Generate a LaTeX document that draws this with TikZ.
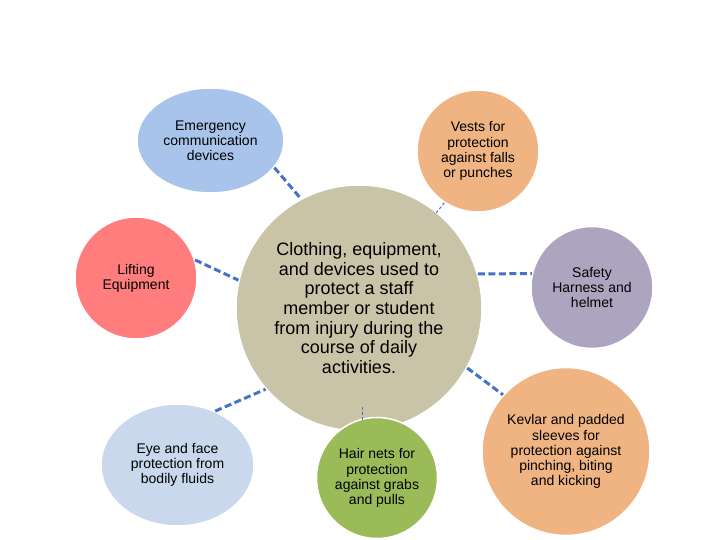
\documentclass[tikz,border=0pt]{standalone}
\usepackage{fontspec}
\setmainfont{Liberation Sans}
\usetikzlibrary{shapes.geometric,calc}
\definecolor{cCentral}{RGB}{201,195,168}
\definecolor{cEmerg}{RGB}{168,196,234}
\definecolor{cOrange}{RGB}{240,180,130}
\definecolor{cRed}{RGB}{255,125,125}
\definecolor{cPurple}{RGB}{173,164,191}
\definecolor{cEye}{RGB}{201,216,236}
\definecolor{cGreen}{RGB}{155,187,89}
\definecolor{cLink}{RGB}{68,114,196}
\tikzset{
  bubble/.style={circle, draw=white, line width=1.5pt, inner sep=0pt, align=center, font=\fontsize{14}{15.1}\selectfont},
  oval/.style={ellipse, draw=white, line width=1.5pt, inner sep=0pt, align=center, font=\fontsize{14}{15}\selectfont},
  thicklink/.style={draw=cLink, line width=3pt, dash pattern=on 7pt off 3.5pt},
  thinlink/.style={draw=cLink, line width=1pt, dash pattern=on 3pt off 2pt}
}
\begin{document}
\begin{tikzpicture}[x=1pt,y=-1pt]
\useasboundingbox (0,0) rectangle (720,540);
\node[bubble, fill=cCentral, minimum size=246pt, font=\fontsize{18}{19.7}\selectfont] (c) at (359,308)
  {Clothing, equipment,\\and devices used to\\protect a staff\\member or student\\from injury during the\\course of daily\\activities.};
\node[oval, fill=cEmerg, minimum width=147pt, minimum height=105pt] (e) at (210.5,140.5)
  {Emergency\\communication\\devices};
\node[bubble, fill=cOrange, minimum size=122pt] (v) at (478,151)
  {Vests for\\protection\\against falls\\or punches};
\node[bubble, fill=cRed, minimum size=122pt] (l) at (136,278)
  {Lifting\\Equipment};
\node[bubble, fill=cPurple, minimum size=122pt] (s) at (592,287.5)
  {Safety\\Harness and\\helmet};
\node[bubble, fill=cOrange, minimum size=168pt] (k) at (566,451.5)
  {Kevlar and padded\\sleeves for\\protection against\\pinching, biting\\and kicking};
\node[oval, fill=cEye, minimum width=153pt, minimum height=122pt] (y) at (177.5,465)
  {Eye and face\\protection from\\bodily fluids};
\node[bubble, fill=cGreen, minimum size=121pt] (h) at (377,478)
  {Hair nets for\\protection\\against grabs\\and pulls};
% connectors
\draw[thicklink] (e.-23) -- (c.118);
\draw[thinlink] (v.-123) -- ($(v.-123)!13pt!(c.center)$);
\draw[thicklink] (l.17) -- (c.167);
\draw[thicklink] (c.16) -- (s.167);
\draw[thicklink] (c.-29) -- (k.138);
\draw[thicklink] (y.55) -- (c.-139);
\coordinate (htop) at ($(h.north)+(-15,-10)$);
\coordinate (hbot) at ($(h.north)+(-15,5)$);
\draw[thinlink] (htop) -- (hbot);
\end{tikzpicture}
\end{document}
